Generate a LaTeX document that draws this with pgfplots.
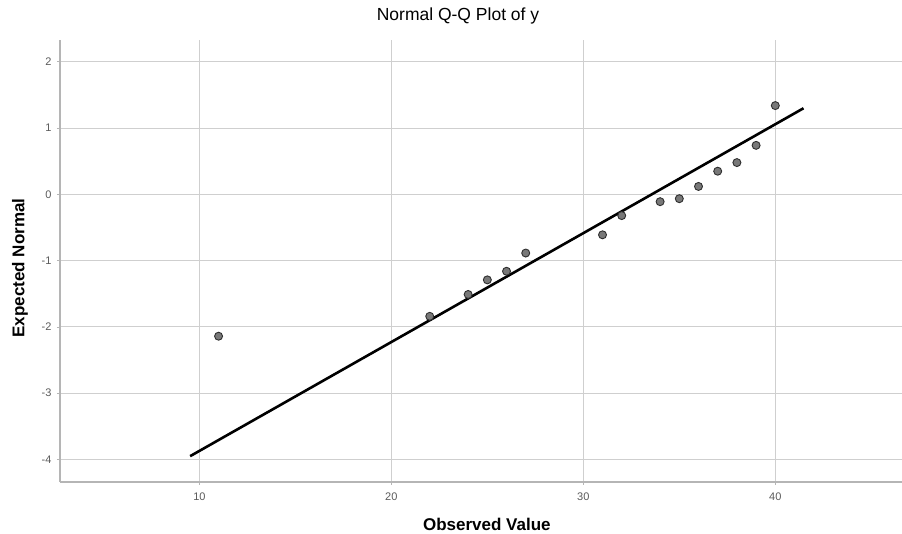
\documentclass[border=0pt]{standalone}
\usepackage{pgfplots}
\pgfplotsset{compat=1.18}
\usepackage{fontspec}
\setmainfont{Liberation Sans}

\definecolor{gridgray}{HTML}{CFCFCF}
\definecolor{axisgray}{HTML}{B5B5B5}
\definecolor{tickgray}{HTML}{5A5A5A}
\definecolor{dotfill}{HTML}{787878}
\definecolor{dotedge}{HTML}{2E2E2E}

\begin{document}
\begin{tikzpicture}[x=1pt,y=1pt]
    % fixed page: 902 x 534, plot box corner at (60,482) px from top left
    \useasboundingbox (-60,-52) rectangle (842,482);
    \begin{axis}[
        at={(0,0)}, anchor=south west,
        scale only axis,
        width=842pt, height=442pt,
        xmin=2.74, xmax=46.6,
        ymin=-4.34, ymax=2.33,
        xtick={10,20,30,40},
        ytick={-4,-3,-2,-1,0,1,2},
        axis lines*=left,
        axis line style={axisgray, line width=1.3pt},
        grid=major,
        grid style={gridgray, line width=0.9pt},
        tick style={axisgray, line width=0.8pt},
        tick align=outside,
        major tick length=3pt,
        /pgf/number format/assume math mode=true,
        ticklabel style={font=\fontsize{11}{13}\selectfont, text=tickgray},
        xticklabel style={yshift=-4pt},
        yticklabel style={xshift=-2pt},
        title={Normal Q-Q Plot of y},
        title style={font=\fontsize{17.5}{20}\selectfont, at={(axis description cs:0.4727,1.04)}, anchor=center},
        xlabel={Observed Value},
        xlabel style={font=\fontsize{17}{20}\bfseries, at={(axis description cs:0.507,-0.097)}, anchor=center},
        ylabel={Expected Normal},
        ylabel style={font=\fontsize{17}{20}\bfseries, at={(axis description cs:-0.0475,0.484)}, anchor=center},
        clip=false,
    ]
    % fitted reference line
    \addplot[black, line width=2.6pt, no marks] coordinates {
        (9.52,-3.95) (41.47,1.30)
    };
    % observed vs expected normal
    \addplot[only marks, mark=*, mark size=4pt,
             mark options={fill=dotfill, draw=dotedge, line width=0.9pt}] table {
        x y
        11 -2.14
        22 -1.84
        24 -1.51
        25 -1.29
        26 -1.16
        27 -0.885
        31 -0.61
        32 -0.32
        34 -0.11
        35 -0.065
        36 0.12
        37 0.35
        38 0.48
        39 0.74
        40 1.34
    };
    \end{axis}
\end{tikzpicture}
\end{document}
